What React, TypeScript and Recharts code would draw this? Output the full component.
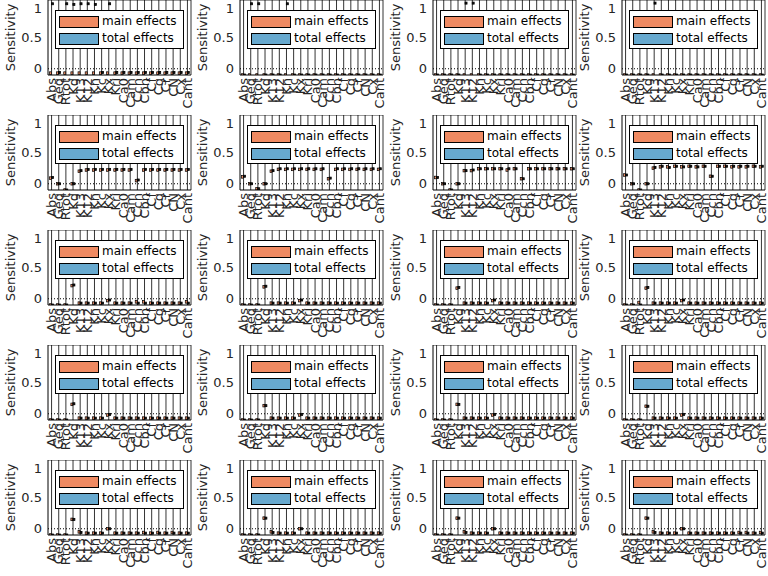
import React from 'react';
import { ComposedChart, Bar, XAxis, YAxis, CartesianGrid, ReferenceLine, Legend } from 'recharts';

const categories = ['Abs', 'Geq', 'Rtot', 'Kd', 'K13', 'K12', 'Kn', 'Kc', 'Kx', 'Kri', 'Ca0', 'Cam', 'Ccn', 'Cbn', 'Cf', 'Cg', 'Cr', 'CN', 'Cx', 'Cant'];
const yTicks = [0, 0.5, 1];
const yDomain = [-0.1, 1.1];
const seriesNames = ['main effects', 'total effects'];
const seriesColors = ['#ef8a62', '#67a9cf'];

// Row 1
const p11Main = [-0.07, -0.07, -0.07, -0.07, -0.07, -0.07, -0.07, -0.07, -0.07, -0.07, -0.07, -0.07, -0.07, -0.07, -0.07, -0.07, -0.07, -0.07, -0.07, -0.07];
const p11Total = [1.04, -0.06, 1.04, 1.03, 1.04, 1.04, 1.03, -0.06, 1.04, -0.06, -0.06, -0.06, -0.06, -0.06, -0.06, -0.06, -0.06, -0.06, -0.06, -0.06];
const p12Main = [-0.1, -0.1, -0.1, -0.1, -0.1, -0.1, -0.1, -0.1, -0.1, -0.1, -0.1, -0.1, -0.1, -0.1, -0.1, -0.1, -0.1, -0.1, -0.1, -0.1];
const p12Total = [-0.1, 1.04, 1.04, -0.1, -0.1, -0.1, 1.04, -0.1, -0.1, -0.1, -0.1, -0.1, -0.1, -0.1, -0.1, -0.1, -0.1, -0.1, -0.1, -0.1];
const p13Main = [-0.1, -0.1, -0.1, -0.1, -0.1, -0.1, -0.1, -0.1, -0.1, -0.1, -0.1, -0.1, -0.1, -0.1, -0.1, -0.1, -0.1, -0.1, -0.1, -0.1];
const p13Total = [-0.1, -0.1, -0.1, -0.1, 1.05, 1.05, -0.1, -0.1, -0.1, -0.1, -0.1, -0.1, -0.1, -0.1, -0.1, -0.1, -0.1, -0.1, -0.1, -0.1];
const p14Main = [-0.1, -0.1, -0.1, -0.1, -0.1, -0.1, -0.1, -0.1, -0.1, -0.1, -0.1, -0.1, -0.1, -0.1, -0.1, -0.1, -0.1, -0.1, -0.1, -0.1];
const p14Total = [-0.1, -0.1, -0.1, -0.1, 1.05, -0.1, -0.1, -0.1, -0.1, -0.1, -0.1, -0.1, -0.1, -0.1, -0.1, -0.1, -0.1, -0.1, -0.1, -0.1];

// Row 2
const p21Main = [0.09, 0, -0.1, 0, 0.2, 0.22, 0.22, 0.22, 0.22, 0.22, 0.22, 0.22, 0.05, 0.22, 0.22, 0.22, 0.22, 0.22, 0.22, 0.22];
const p21Total = [0.1, 0, -0.1, 0, 0.21, 0.23, 0.23, 0.23, 0.23, 0.23, 0.23, 0.23, 0.06, 0.23, 0.23, 0.23, 0.23, 0.23, 0.23, 0.23];
const p22Main = [0.11, 0, -0.08, 0, 0.2, 0.23, 0.23, 0.23, 0.23, 0.23, 0.23, 0.23, 0.08, 0.23, 0.23, 0.23, 0.23, 0.23, 0.23, 0.23];
const p22Total = [0.12, 0, -0.08, 0, 0.21, 0.24, 0.24, 0.24, 0.24, 0.24, 0.24, 0.24, 0.09, 0.24, 0.24, 0.24, 0.24, 0.24, 0.24, 0.24];
const p23Main = [0.1, 0, -0.1, 0, 0.21, 0.21, 0.24, 0.24, 0.24, 0.24, 0.22, 0.24, 0.08, 0.24, 0.24, 0.24, 0.24, 0.24, 0.24, 0.24];
const p23Total = [0.1, 0, -0.1, 0, 0.21, 0.22, 0.24, 0.24, 0.24, 0.24, 0.24, 0.24, 0.08, 0.24, 0.24, 0.24, 0.24, 0.24, 0.24, 0.24];
const p24Main = [0.14, 0, -0.1, 0, 0.25, 0.27, 0.27, 0.28, 0.27, 0.28, 0.27, 0.28, 0.12, 0.28, 0.28, 0.27, 0.27, 0.27, 0.28, 0.27];
const p24Total = [0.14, 0, -0.1, 0, 0.26, 0.28, 0.26, 0.28, 0.27, 0.28, 0.27, 0.28, 0.12, 0.28, 0.28, 0.28, 0.28, 0.28, 0.28, 0.28];

// Row 3
const p31Main = [-0.1, -0.1, -0.1, 0.21, -0.07, -0.07, -0.07, -0.07, -0.03, -0.07, -0.07, -0.07, -0.05, -0.05, -0.07, -0.07, -0.07, -0.07, -0.07, -0.05];
const p31Total = [-0.1, -0.1, -0.1, 0.22, -0.07, -0.07, -0.07, -0.07, -0.02, -0.07, -0.07, -0.07, -0.07, -0.07, -0.07, -0.07, -0.07, -0.07, -0.07, -0.07];
const p32Main = [-0.1, -0.1, -0.1, 0.19, -0.07, -0.07, -0.07, -0.07, -0.03, -0.07, -0.07, -0.07, -0.07, -0.07, -0.07, -0.07, -0.07, -0.07, -0.07, -0.07];
const p32Total = [-0.1, -0.1, -0.1, 0.2, -0.07, -0.07, -0.07, -0.07, -0.02, -0.07, -0.07, -0.07, -0.07, -0.07, -0.07, -0.07, -0.07, -0.07, -0.07, -0.07];
const p33Main = [-0.1, -0.1, -0.1, 0.17, -0.07, -0.07, -0.07, -0.07, -0.03, -0.07, -0.07, -0.07, -0.07, -0.07, -0.07, -0.07, -0.07, -0.07, -0.07, -0.07];
const p33Total = [-0.1, -0.1, -0.1, 0.18, -0.07, -0.07, -0.07, -0.07, -0.02, -0.07, -0.07, -0.07, -0.07, -0.07, -0.07, -0.07, -0.07, -0.07, -0.07, -0.07];
const p34Main = [-0.1, -0.1, -0.06, 0.17, -0.07, -0.07, -0.07, -0.07, -0.03, -0.07, -0.07, -0.07, -0.07, -0.07, -0.07, -0.07, -0.07, -0.07, -0.07, -0.07];
const p34Total = [-0.1, -0.1, -0.1, 0.18, -0.07, -0.07, -0.07, -0.07, -0.02, -0.07, -0.07, -0.07, -0.07, -0.07, -0.07, -0.07, -0.07, -0.07, -0.07, -0.07];

// Row 4
const p41Main = [-0.1, -0.1, -0.1, 0.15, -0.07, -0.07, -0.07, -0.07, -0.02, -0.07, -0.07, -0.07, -0.07, -0.07, -0.07, -0.07, -0.07, -0.07, -0.07, -0.07];
const p41Total = [-0.1, -0.1, -0.1, 0.16, -0.07, -0.07, -0.07, -0.07, -0.01, -0.07, -0.07, -0.07, -0.07, -0.07, -0.07, -0.07, -0.07, -0.07, -0.07, -0.07];
const p42Main = [-0.1, -0.1, -0.1, 0.13, -0.07, -0.07, -0.07, -0.07, -0.02, -0.07, -0.07, -0.07, -0.07, -0.07, -0.07, -0.07, -0.07, -0.07, -0.07, -0.07];
const p42Total = [-0.1, -0.1, -0.1, 0.13, -0.07, -0.07, -0.07, -0.07, -0.01, -0.07, -0.07, -0.07, -0.07, -0.07, -0.07, -0.07, -0.07, -0.07, -0.07, -0.07];
const p43Main = [-0.1, -0.1, -0.1, 0.15, -0.07, -0.07, -0.07, -0.07, -0.02, -0.07, -0.07, -0.07, -0.07, -0.07, -0.07, -0.07, -0.07, -0.07, -0.07, -0.07];
const p43Total = [-0.1, -0.1, -0.1, 0.15, -0.07, -0.07, -0.07, -0.07, -0.01, -0.07, -0.07, -0.07, -0.07, -0.07, -0.07, -0.07, -0.07, -0.07, -0.07, -0.07];
const p44Main = [-0.1, -0.1, -0.1, 0.12, -0.07, -0.07, -0.07, -0.07, -0.02, -0.07, -0.07, -0.07, -0.07, -0.07, -0.07, -0.07, -0.07, -0.07, -0.07, -0.07];
const p44Total = [-0.1, -0.1, -0.1, 0.12, -0.07, -0.07, -0.07, -0.07, -0.01, -0.07, -0.07, -0.07, -0.07, -0.07, -0.07, -0.07, -0.07, -0.07, -0.07, -0.07];

// Row 5
const p51Main = [-0.1, -0.1, -0.1, 0.15, -0.05, -0.07, -0.07, -0.07, 0, -0.07, -0.07, -0.07, -0.07, -0.06, -0.07, -0.06, -0.07, -0.06, -0.07, -0.07];
const p51Total = [-0.1, -0.1, -0.1, 0.15, -0.06, -0.07, -0.07, -0.07, 0, -0.07, -0.07, -0.07, -0.07, -0.07, -0.07, -0.07, -0.07, -0.07, -0.07, -0.07];
const p52Main = [-0.1, -0.1, -0.1, 0.17, -0.05, -0.07, -0.07, -0.07, 0, -0.07, -0.07, -0.07, -0.07, -0.07, -0.07, -0.07, -0.07, -0.07, -0.07, -0.07];
const p52Total = [-0.1, -0.1, -0.1, 0.17, -0.06, -0.07, -0.07, -0.07, 0, -0.07, -0.07, -0.07, -0.07, -0.07, -0.07, -0.07, -0.07, -0.07, -0.07, -0.07];
const p53Main = [-0.1, -0.1, -0.1, 0.17, -0.05, -0.07, -0.07, -0.07, 0, -0.07, -0.07, -0.07, -0.07, -0.07, -0.07, -0.07, -0.07, -0.07, -0.07, -0.07];
const p53Total = [-0.1, -0.1, -0.1, 0.17, -0.06, -0.07, -0.07, -0.07, 0, -0.07, -0.07, -0.07, -0.07, -0.07, -0.07, -0.07, -0.07, -0.07, -0.07, -0.07];
const p54Main = [-0.1, -0.1, -0.1, 0.17, -0.05, -0.07, -0.07, -0.07, 0, -0.07, -0.07, -0.07, -0.07, -0.07, -0.07, -0.07, -0.06, -0.06, -0.07, -0.06];
const p54Total = [-0.1, -0.1, -0.1, 0.17, -0.06, -0.07, -0.07, -0.07, 0, -0.07, -0.07, -0.07, -0.07, -0.07, -0.07, -0.07, -0.07, -0.07, -0.07, -0.07];

const panelMain = [p11Main, p12Main, p13Main, p14Main, p21Main, p22Main, p23Main, p24Main, p31Main, p32Main, p33Main, p34Main, p41Main, p42Main, p43Main, p44Main, p51Main, p52Main, p53Main, p54Main];
const panelTotal = [p11Total, p12Total, p13Total, p14Total, p21Total, p22Total, p23Total, p24Total, p31Total, p32Total, p33Total, p34Total, p41Total, p42Total, p43Total, p44Total, p51Total, p52Total, p53Total, p54Total];

const FONT = '"DejaVu Sans", sans-serif';
const TEXT = '#262626';
const COLS = 4;
const CHART_W = 200;
const CHART_H = 115;
const RIGHT_PAD = 9;
const COL_LEFT = [0, 192, 385, 574];

const MainMarker = (props: any) => {
  const { x, y, width } = props;
  if (x == null || y == null || isNaN(y)) return null;
  return <rect x={x} y={y - 1.3} width={Math.max(width, 2)} height={2.6} fill={seriesColors[0]} stroke="#000" strokeWidth={0.7} />;
};

const TotalMarker = (props: any) => {
  const { x, y, width } = props;
  if (x == null || y == null || isNaN(y)) return null;
  return <rect x={x} y={y - 1} width={Math.max(width, 2)} height={2} fill="#111" stroke="#000" strokeWidth={0.8} />;
};

const XTick = (props: any) => {
  const { x, y, payload } = props;
  return (
    <text transform={`translate(${x},${y}) rotate(-90)`} textAnchor="end" dominantBaseline="central" fontSize={13} fill={TEXT} fontFamily={FONT}>
      {payload.value}
    </text>
  );
};

const SensLabel = (props: any) => {
  const vb = props.viewBox || { x: 0, y: 0, width: 48, height: 75 };
  const cx = (vb.x || 0) + 10;
  const cy = vb.y + vb.height / 2;
  return (
    <text transform={`translate(${cx},${cy}) rotate(-90)`} textAnchor="middle" dominantBaseline="central" fontSize={13} fill={TEXT} fontFamily={FONT}>
      Sensitivity
    </text>
  );
};

const LegendBox = (props: any) => {
  const items = props.payload && props.payload.length ? props.payload : seriesNames.map((n, i) => ({ value: n, color: seriesColors[i] }));
  return (
    <div style={{ border: '1px solid #000', background: '#fff', padding: '2px 7px 1px 3px', fontFamily: FONT, fontSize: 12, color: '#000', width: 'max-content' }}>
      {items.map((it: any, i: number) => (
        <div key={i} style={{ display: 'flex', alignItems: 'center', height: 17, lineHeight: '17px' }}>
          <span style={{ display: 'inline-block', width: 38, height: 10, border: '1px solid #000', background: seriesColors[i] || it.color, marginRight: 3 }} />
          <span>{it.value}</span>
        </div>
      ))}
    </div>
  );
};

const vGen = (props: any) => {
  const { offset } = props;
  const n = categories.length;
  const pts = categories.map((_, i) => offset.left + ((i + 0.5) * offset.width) / n);
  pts.push(offset.left + offset.width);
  return pts;
};

const hGen = (props: any) => [props.offset.top];

const Panel = ({ idx }: { idx: number }) => {
  const main = panelMain[idx];
  const total = panelTotal[idx];
  const data = categories.map((c, i) => ({ cat: c, main: main[i], total: total[i] }));
  const row = Math.floor(idx / COLS);
  const col = idx % COLS;
  return (
    <div style={{ position: 'absolute', left: COL_LEFT[col], top: row * CHART_H, width: CHART_W, height: CHART_H }}>
      <ComposedChart width={CHART_W} height={CHART_H} data={data} margin={{ top: 0, right: RIGHT_PAD, bottom: 0, left: 0 }} barCategoryGap="20%" barGap={0}>
        <CartesianGrid stroke="#000" strokeWidth={0.8} horizontalCoordinatesGenerator={hGen} verticalCoordinatesGenerator={vGen} />
        <XAxis dataKey="cat" height={40} interval={0} tick={<XTick />} tickLine={false} tickSize={2} tickMargin={1} axisLine={{ stroke: '#000' }} />
        <YAxis
          width={48}
          domain={yDomain}
          ticks={yTicks}
          type="number"
          allowDataOverflow
          tickLine={false}
          tickSize={4}
          tickMargin={2}
          axisLine={{ stroke: '#000' }}
          tick={{ fontSize: 13, fill: TEXT, fontFamily: FONT }}
          label={{ content: SensLabel }}
        />
        <ReferenceLine y={0} stroke="#000" strokeDasharray="1 2" strokeWidth={1} />
        <Bar dataKey="main" name={seriesNames[0]} fill={seriesColors[0]} shape={MainMarker} isAnimationActive={false} />
        <Bar dataKey="total" name={seriesNames[1]} fill={seriesColors[1]} shape={TotalMarker} isAnimationActive={false} />
        <Legend layout="horizontal" verticalAlign="middle" align="center" content={LegendBox} wrapperStyle={{ left: 55, top: 10, width: 'auto', height: 'auto' }} />
      </ComposedChart>
    </div>
  );
};

export default function App() {
  return (
    <div style={{ position: 'absolute', left: 0, top: 0, width: 768, height: 576, background: '#fff', overflow: 'hidden', fontFamily: FONT }}>
      {panelMain.map((_, i) => (
        <Panel key={i} idx={i} />
      ))}
    </div>
  );
}
